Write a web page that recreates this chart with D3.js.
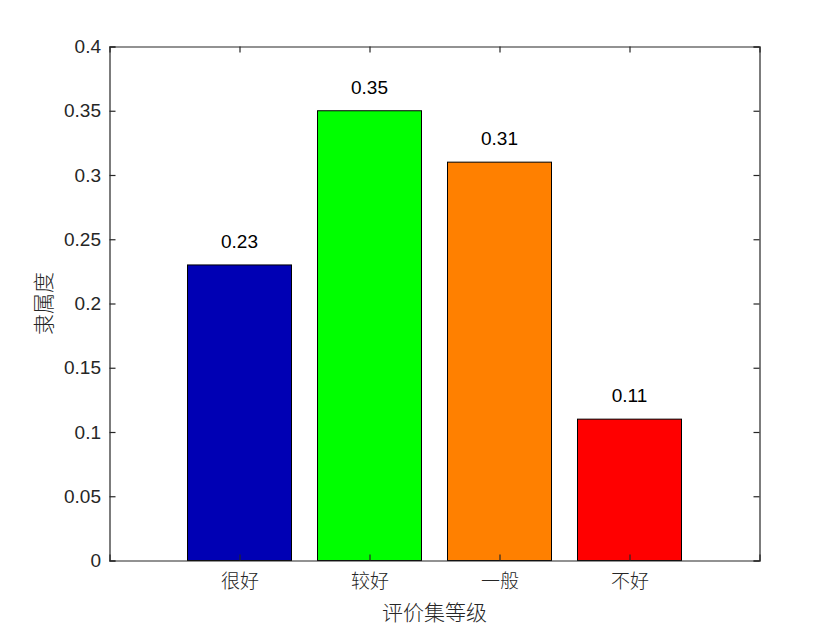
<!DOCTYPE html>
<html><head><meta charset="utf-8">
<script src="https://cdn.jsdelivr.net/npm/d3@7"></script>
<style>body{margin:0;background:#fff}svg{display:block}</style>
</head><body>
<svg id="c" width="840" height="630"></svg>
<script>
const categories = ["很好", "较好", "一般", "不好"];
const values = [0.23, 0.35, 0.31, 0.11];
const colors = ["#0000B4", "#00FF00", "#FF8000", "#FF0000"];
const yTicks = [0, 0.05, 0.1, 0.15, 0.2, 0.25, 0.3, 0.35, 0.4];
const yTickLabels = ["0", "0.05", "0.1", "0.15", "0.2", "0.25", "0.3", "0.35", "0.4"];
const xLabel = "评价集等级";
const yLabel = "隶属度";

const svg = d3.select("#c");
const L = 109.5, R = 759.5, T = 46.5, B = 560.5;
const axisColor = "#262626";
const cjk = "'Noto Sans CJK SC', sans-serif";
const latin = "'Liberation Sans', Arial, sans-serif";

const x = d3.scaleLinear().domain([0, 5]).range([L, R]);
const y = d3.scaleLinear().domain([0, 0.4]).range([B, T]);
const bw = (x(1) - x(0)) * 0.8;

// bars
svg.append("g").selectAll("rect").data(values).join("rect")
  .attr("x", (d, i) => x(i + 1) - bw / 2)
  .attr("y", d => y(d))
  .attr("width", bw)
  .attr("height", d => y(0) - y(d))
  .attr("fill", (d, i) => colors[i])
  .attr("stroke", "#000").attr("stroke-width", 1);

// value labels
svg.append("g").selectAll("text").data(values).join("text")
  .attr("x", (d, i) => x(i + 1))
  .attr("y", d => y(d) - 17)
  .attr("text-anchor", "middle")
  .attr("font-family", latin).attr("font-size", 19)
  .attr("fill", "#000")
  .text(d => d.toFixed(2));

// axes: box with inward ticks
const yAxisL = d3.axisLeft(y).tickValues(yTicks).tickSize(-6).tickPadding(8.5)
  .tickFormat((d, i) => yTickLabels[i]);
const gL = svg.append("g").attr("transform", `translate(${L},0)`).call(yAxisL);
const yAxisR = d3.axisRight(y).tickValues(yTicks).tickSize(-6).tickFormat("");
const gR = svg.append("g").attr("transform", `translate(${R},0)`).call(yAxisR);
const xAxisB = d3.axisBottom(x).tickValues([1, 2, 3, 4]).tickSize(-6).tickPadding(14)
  .tickFormat((d, i) => categories[i]);
const gB = svg.append("g").attr("transform", `translate(0,${B})`).call(xAxisB);
const xAxisT = d3.axisTop(x).tickValues([1, 2, 3, 4]).tickSize(-6).tickFormat("");
const gT = svg.append("g").attr("transform", `translate(0,${T})`).call(xAxisT);

[gL, gR, gB, gT].forEach(g => {
  g.select(".domain").attr("stroke", axisColor).attr("stroke-width", 1.2);
  g.selectAll(".tick line").attr("stroke", axisColor).attr("stroke-width", 1.2);
});
gL.selectAll(".tick text").attr("font-family", latin).attr("font-size", 19).attr("fill", axisColor);
gB.selectAll(".tick text").attr("font-family", cjk).attr("font-size", 19)
  .attr("font-weight", 300).attr("fill", axisColor);

// axis titles
svg.append("text")
  .attr("x", (L + R) / 2).attr("y", 620)
  .attr("text-anchor", "middle")
  .attr("font-family", cjk).attr("font-size", 21).attr("font-weight", 300)
  .attr("fill", axisColor).text(xLabel);
svg.append("text")
  .attr("transform", `translate(51,${(T + B) / 2}) rotate(-90)`)
  .attr("text-anchor", "middle")
  .attr("font-family", cjk).attr("font-size", 21).attr("font-weight", 300)
  .attr("fill", axisColor).text(yLabel);
</script>
</body></html>
